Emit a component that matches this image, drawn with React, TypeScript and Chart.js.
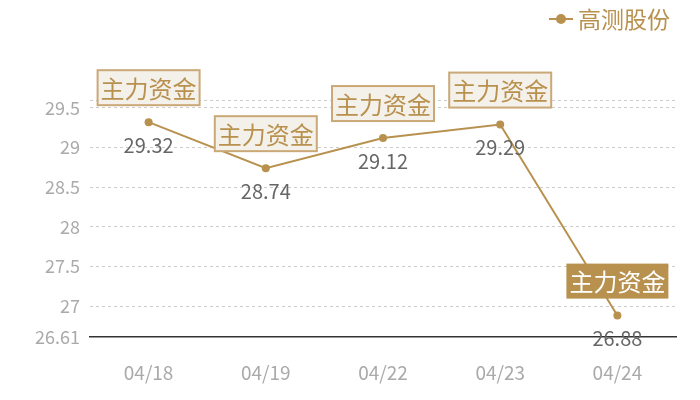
import { useEffect, useRef } from "react";
import { Chart, registerables, Plugin } from "chart.js";

Chart.register(...registerables);

const categories = ["04/18", "04/19", "04/22", "04/23", "04/24"];
const prices = [29.32, 28.74, 29.12, 29.29, 26.88];
const tagText = "主力资金";
const seriesName = "高测股份";
const yTicks = [26.61, 27, 27.5, 28, 28.5, 29, 29.5, 29.6];
const highlightIndex = 4;

const GOLD = "#b8914f";
const FONT = "'Noto Sans CJK SC', 'Noto Sans', sans-serif";

const labelPlugin: Plugin<"line"> = {
  id: "tagLabels",
  afterDatasetsDraw(chart) {
    const ctx = chart.ctx;
    const meta = chart.getDatasetMeta(0);
    ctx.save();
    meta.data.forEach((pt: any, i: number) => {
      const x = pt.x;
      const y = pt.y;
      // value under the point
      ctx.font = `20px ${FONT}`;
      ctx.fillStyle = "#666";
      ctx.textAlign = "center";
      ctx.textBaseline = "middle";
      ctx.fillText(String(prices[i]), x, y + 23);

      // tag box above the point
      ctx.font = `24px ${FONT}`;
      const w = 102;
      const h = 35;
      const bx = x - w / 2;
      const by = y - 52;
      if (i === highlightIndex) {
        ctx.fillStyle = GOLD;
        ctx.fillRect(bx, by, w, h);
        ctx.fillStyle = "#fff";
      } else {
        ctx.fillStyle = "#f4f0ea";
        ctx.fillRect(bx, by, w, h);
        ctx.strokeStyle = "#caa877";
        ctx.lineWidth = 2;
        ctx.strokeRect(bx, by, w, h);
        ctx.fillStyle = GOLD;
      }
      ctx.fillText(tagText, x, by + h / 2 + 1);
    });

    // legend
    ctx.font = `23px ${FONT}`;
    ctx.textAlign = "left";
    ctx.textBaseline = "middle";
    const lx = 549;
    const ly = 19;
    ctx.strokeStyle = GOLD;
    ctx.lineWidth = 2;
    ctx.beginPath();
    ctx.moveTo(lx, ly);
    ctx.lineTo(lx + 24, ly);
    ctx.stroke();
    ctx.fillStyle = GOLD;
    ctx.beginPath();
    ctx.arc(lx + 12, ly, 5, 0, Math.PI * 2);
    ctx.fill();
    ctx.fillText(seriesName, lx + 29, ly);
    ctx.restore();
  },
};

export default function App() {
  const chartRef = useRef<HTMLCanvasElement>(null);

  useEffect(() => {
    document.body.style.margin = "0";
    if (!chartRef.current) return;
    const ctx = chartRef.current.getContext("2d");
    if (!ctx) return;

    const chart = new Chart(ctx, {
      type: "line",
      data: {
        labels: categories,
        datasets: [
          {
            label: seriesName,
            data: prices,
            borderColor: GOLD,
            backgroundColor: GOLD,
            borderWidth: 2,
            pointRadius: 4,
            pointBackgroundColor: GOLD,
            pointBorderWidth: 0,
            tension: 0,
          },
        ],
      },
      options: {
        animation: false,
        responsive: false,
        layout: { padding: { top: 100, right: 24, bottom: 0, left: 0 } },
        plugins: {
          legend: { display: false },
          tooltip: { enabled: false },
        },
        scales: {
          x: {
            offset: true,
            grid: { display: false },
            border: { display: true, color: "#333", width: 1.5 },
            afterFit: (scale: any) => {
              scale.height = 63;
            },
            ticks: {
              color: "#aaa",
              font: { size: 19, family: FONT },
              padding: 16,
            },
          },
          y: {
            min: 26.61,
            max: 29.6,
            afterBuildTicks: (scale: any) => {
              scale.ticks = yTicks.map((v) => ({ value: v }));
            },
            afterFit: (scale: any) => {
              scale.width = 90;
            },
            border: { display: false, dash: [3, 3] },
            grid: {
              color: (c: any) => (c.index === 0 ? "rgba(0,0,0,0)" : "#ccc"),
              tickLength: 0,
            },
            ticks: {
              color: "#aaa",
              font: { size: 18, family: FONT },
              padding: 10,
              autoSkip: false,
              callback: (v: any) => (v === 29.6 ? "" : String(v)),
            },
          },
        },
      },
      plugins: [labelPlugin],
    });

    return () => {
      chart.destroy();
    };
  }, []);

  return (
    <div style={{ width: 700, height: 400 }}>
      <canvas ref={chartRef} width={700} height={400} />
    </div>
  );
}
